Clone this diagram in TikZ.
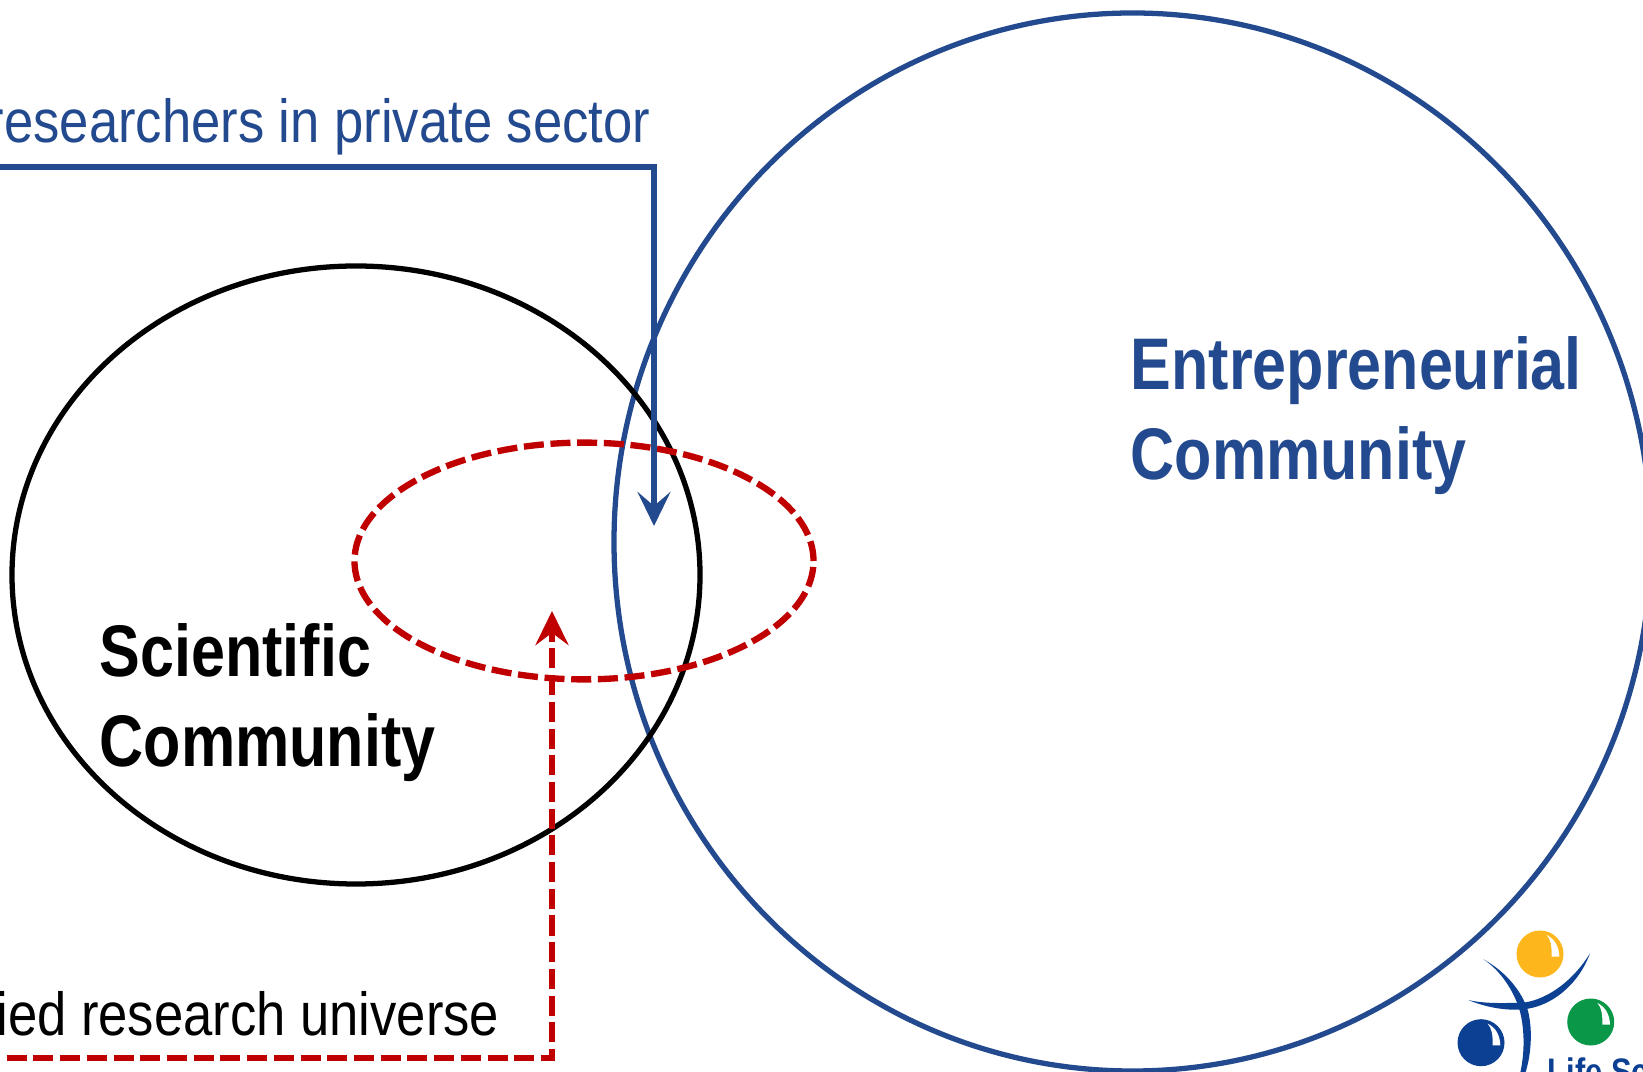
\documentclass[tikz,border=0pt]{standalone}
\usepackage{fontspec}
\setmainfont[FakeStretch=0.835]{Liberation Sans}
\newfontfamily\captionfont[FakeStretch=0.865]{Liberation Sans}
\usetikzlibrary{arrows.meta}
\definecolor{entblue}{HTML}{234A8E}
\definecolor{dashred}{HTML}{C00000}
\definecolor{logoyellow}{HTML}{FDB71C}
\definecolor{logogreen}{HTML}{0A9747}
\definecolor{logoblue}{HTML}{0B4093}
\tikzset{
  bigbold/.style={font=\fontsize{20.8}{25.6}\selectfont\bfseries, align=left, anchor=north west, inner sep=0pt},
  caption/.style={font=\fontsize{17.3}{20}\selectfont\captionfont, anchor=base east, inner sep=0pt},
  reddash/.style={dashred, line width=1.8pt, dash pattern=on 5.7pt off 1.9pt},
  ball/.style={inner sep=0pt, minimum size=0.47cm, circle}
}
\begin{document}
\begin{tikzpicture}
  \path[use as bounding box, clip] (0,0) rectangle (16.43,10.71);

  % Define the two communities and the overlap
  \def\circleEnt{(11.325,5.29) ellipse (5.185cm and 5.29cm)}
  \def\ellipseSci{(3.56,4.96) ellipse (3.44cm and 3.09cm)}
  \def\ellipseUni{(5.84,5.10) ellipse (2.295cm and 1.184cm)}

  \draw[entblue, line width=1.5pt] \circleEnt;
  \draw[black, line width=1.5pt] \ellipseSci;
  \draw[reddash] \ellipseUni;

  % Labels of the communities
  \node[bigbold, text=entblue] (entlabel) at (11.30,7.35) {Entrepreneurial\\Community};
  \node[bigbold, text=black] (scilabel) at (0.99,4.48) {Scientific\\Community};

  % Captions, cut by the page on the left
  \node[caption, text=entblue] (privlabel) at (6.51,9.28) {researchers in private sector};
  \node[caption, text=black] (unilabel) at (5.00,0.36) {ied research universe};

  % Arrows
  \coordinate (privstart) at (-0.2,9.04);
  \coordinate (privtip) at (6.54,5.45);
  \coordinate (unistart) at (-0.2,0.13);
  \coordinate (unitip) at (5.52,4.60);
  \draw[entblue, line width=1.8pt, -{Stealth[length=9.7pt, width=9.4pt, inset=4pt]}] (privstart) -| (privtip);
  \draw[reddash, -{Stealth[length=9.7pt, width=9.4pt, inset=3.5pt, sep=0pt]}] (unistart) -| (unitip);

  % Logo
  \foreach \ballname/\ballcolor/\ballx/\bally in {yball/logoyellow/15.40/1.17, gball/logogreen/15.907/0.49, bball/logoblue/14.81/0.283} {
    \node[ball, fill=\ballcolor] (\ballname) at (\ballx,\bally) {};
    \fill[white] (\ballx+0.067,\bally+0.19) .. controls (\ballx+0.15,\bally+0.15) and (\ballx+0.19,\bally+0.07) .. (\ballx+0.193,\bally-0.027)
      -- (\ballx+0.117,\bally-0.027) .. controls (\ballx+0.117,\bally+0.08) and (\ballx+0.11,\bally+0.14) .. cycle;
  }
  \fill[logoblue] (14.833,1.117) .. controls (15.02,1.0) and (15.17,0.75) .. (15.21,0.55)
    .. controls (15.25,0.35) and (15.24,0.15) .. (15.20,-0.03) -- (15.25,-0.03)
    .. controls (15.31,0.15) and (15.33,0.40) .. (15.28,0.60)
    .. controls (15.22,0.80) and (15.05,1.0) .. cycle;
  \fill[logoblue] (14.683,0.71) .. controls (14.85,0.64) and (15.05,0.60) .. (15.233,0.617)
    .. controls (15.5,0.64) and (15.78,0.85) .. (15.90,1.177)
    .. controls (15.75,0.93) and (15.5,0.72) .. (15.233,0.683)
    .. controls (15.05,0.68) and (14.85,0.67) .. cycle;
  \node[inner sep=0pt, anchor=base west, text=logoblue, font=\fontsize{10.5}{12}\selectfont\bfseries] (logotext) at (15.47,-0.13) {Life Sc};
\end{tikzpicture}
\end{document}
